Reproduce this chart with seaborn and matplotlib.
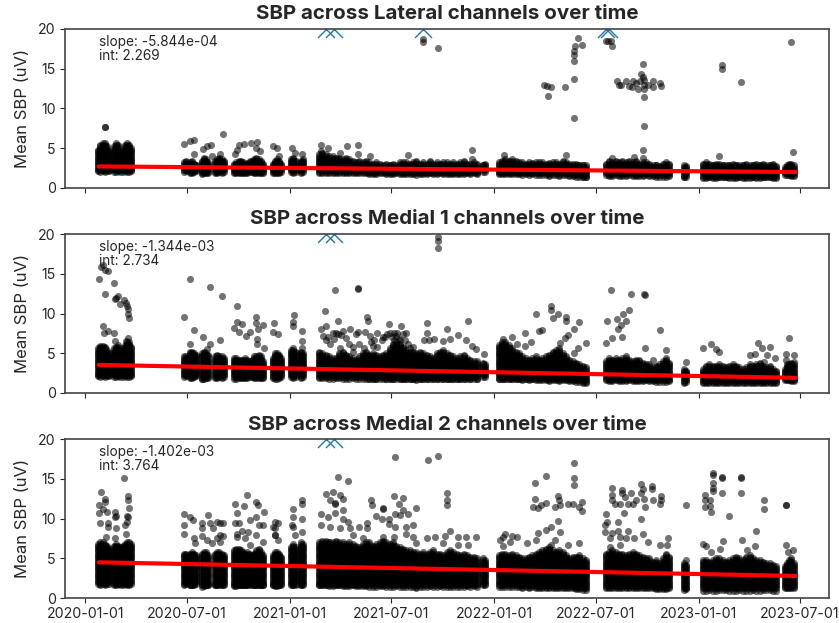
import matplotlib
matplotlib.use('Agg')
import matplotlib.pyplot as plt
import matplotlib.dates as mdates
import pandas as pd
import seaborn as sns

# days since 2020-01-01 of the recording sessions
session_days = [
    23, 27, 31, 35, 39, 43,
    51, 55, 59, 63, 67, 71, 75, 79, 82,
    177, 180, 187, 191, 195, 198,
    208, 212, 216, 219, 232, 236, 240, 244, 248,
    266, 270, 274, 278, 282, 286, 290, 294, 298, 302, 306, 310, 314, 318,
    335, 339, 343, 347, 350,
    368, 372, 376, 385, 389,
    418, 424, 430, 436, 442, 448, 454, 460, 466, 472, 478, 484, 490, 496, 502, 508,
    514, 520, 526, 532, 538, 544, 550, 556, 562, 568, 574, 580, 586, 592, 598, 604,
    610, 616, 622, 628, 634, 640, 646, 652, 658, 664, 670, 676, 682, 688, 694, 700,
    711, 714,
    739, 745, 751, 757, 763, 769, 775, 781, 787, 793, 799, 805, 811, 817, 823, 829,
    835, 841, 847, 853, 859, 865, 871, 877, 883, 889, 895,
    930, 936, 942, 948, 954, 960, 966, 972, 978, 984, 990, 996, 1002, 1008, 1014, 1020,
    1026, 1032, 1038, 1044,
    1070, 1074,
    1103, 1109, 1115, 1121, 1127, 1133, 1139, 1145, 1151, 1157, 1163, 1169, 1175, 1181,
    1187, 1193, 1199, 1205, 1211, 1217, 1223, 1229, 1235,
    1250, 1254, 1258, 1262, 1266,
]

# bottom edge of the dense band, per session
band_low = [
    2.1, 2.0, 2.1, 2.0, 2.1, 2.1,
    2.0, 2.0, 2.1, 2.0, 2.0, 2.1, 2.0, 2.0, 2.1,
    2.0, 2.1, 1.9, 1.9, 2.0, 2.1,
    1.7, 1.8, 1.9, 1.9, 1.9, 1.9, 2.0, 1.9, 2.0,
    1.8, 1.8, 1.9, 1.9, 1.9, 1.9, 1.9, 2.0, 2.0, 1.9, 1.9, 1.9, 1.9, 1.9,
    1.9, 1.8, 1.8, 1.9, 2.0,
    2.0, 1.9, 2.0, 1.9, 2.0,
    1.9, 1.9, 1.9, 1.8, 1.8, 1.9, 1.9, 1.8, 1.8, 1.8, 1.9, 1.8, 1.8, 1.8, 1.8, 1.7,
    1.7, 1.7, 1.8, 1.8, 1.7, 1.7, 1.7, 1.8, 1.7, 1.7, 1.7, 1.7, 1.7, 1.6, 1.7, 1.7,
    1.7, 1.8, 1.7, 1.7, 1.8, 1.7, 1.7, 1.7, 1.7, 1.7, 1.7, 1.7, 1.8, 1.7, 1.8, 1.7,
    2.0, 2.0,
    1.7, 1.7, 1.7, 1.7, 1.7, 1.7, 1.7, 1.6, 1.7, 1.6, 1.7, 1.6, 1.6, 1.6, 1.6, 1.5,
    1.6, 1.6, 1.5, 1.6, 1.6, 1.5, 1.5, 1.4, 1.4, 1.3, 1.3,
    1.6, 1.5, 1.5, 1.6, 1.5, 1.5, 1.5, 1.6, 1.5, 1.5, 1.5, 1.5, 1.6, 1.5, 1.5, 1.4,
    1.4, 1.4, 1.4, 1.5,
    1.3, 1.4,
    1.2, 1.2, 1.3, 1.2, 1.2, 1.3, 1.3, 1.3, 1.2, 1.2, 1.2, 1.3, 1.2, 1.2,
    1.2, 1.3, 1.2, 1.2, 1.3, 1.3, 1.3, 1.2, 1.2,
    1.6, 1.6, 1.6, 1.5, 1.5,
]

# top edge of the dense band, per session and channel group
lateral_top = [
    4.8, 5.4, 5.6, 5.6, 5.2, 4.6,
    5.2, 5.6, 5.4, 4.4, 4.8, 5.4, 5.6, 5.4, 5.0,
    3.2, 3.4, 3.2, 3.4, 3.0, 2.9,
    3.4, 3.8, 3.6, 3.2, 3.4, 3.6, 3.8, 3.6, 3.4,
    3.0, 3.2, 3.4, 3.4, 3.2, 3.0, 3.1, 3.3, 3.4, 3.6, 3.8, 3.6, 3.4, 3.0,
    3.0, 3.4, 3.6, 3.4, 3.0,
    3.6, 3.8, 3.4, 3.4, 3.6,
    4.2, 4.4, 4.2, 4.0, 4.0, 3.8, 3.8, 3.6, 3.8, 3.6, 3.4, 3.2, 3.4, 3.2, 3.4, 3.2,
    3.0, 3.2, 3.0, 2.8, 3.0, 2.9, 3.0, 2.8, 3.2, 3.2, 3.2, 3.0, 3.2, 3.4, 3.0, 3.2,
    3.0, 3.4, 3.0, 3.2, 3.0, 3.2, 3.2, 3.0, 3.2, 3.0, 3.2, 3.4, 3.0, 3.0, 3.2, 3.0,
    2.9, 3.0,
    3.2, 3.4, 3.6, 3.4, 3.6, 3.4, 3.2, 3.2, 3.0, 3.2, 3.1, 3.2, 3.2, 3.2, 3.0, 3.1,
    3.2, 3.2, 3.0, 3.4, 3.2, 3.0, 3.0, 3.0, 2.9, 2.9, 2.8,
    3.0, 3.4, 3.2, 3.4, 3.2, 3.4, 3.2, 3.4, 3.2, 3.4, 3.0, 3.2, 3.2, 3.0, 2.8, 2.9,
    2.7, 3.0, 3.2, 3.0,
    2.8, 2.7,
    3.0, 3.2, 3.0, 2.9, 3.0, 3.0, 2.9, 2.8, 2.9, 3.0, 2.9, 2.8, 2.9, 3.0,
    2.8, 2.9, 3.0, 2.9, 3.0, 2.8, 2.9, 3.0, 2.7,
    2.6, 2.8, 3.0, 3.0, 2.8,
]
medial1_top = [
    5.6, 5.9, 5.9, 5.8, 5.4, 5.0,
    5.6, 5.8, 6.0, 5.0, 5.6, 6.0, 6.4, 6.4, 5.8,
    4.6, 4.6, 5.2, 5.2, 5.0, 4.8,
    5.0, 5.2, 5.0, 4.8, 4.6, 4.8, 4.6, 4.6, 4.4,
    4.4, 4.4, 4.2, 4.2, 4.2, 4.4, 4.2, 4.0, 4.2, 4.6, 4.6, 4.8, 4.6, 4.0,
    4.4, 5.0, 5.0, 4.8, 4.4,
    5.4, 5.6, 5.2, 5.2, 5.0,
    5.2, 5.0, 4.8, 4.6, 4.4, 4.4, 5.0, 5.2, 4.8, 4.6, 4.4, 4.2, 4.6, 5.0, 5.2, 4.8,
    5.0, 4.8, 4.6, 4.8, 5.0, 5.6, 6.2, 6.4, 6.2, 5.8, 5.4, 5.2, 5.2, 5.0, 5.2, 5.0,
    4.8, 4.6, 4.4, 5.0, 5.2, 5.4, 5.0, 4.8, 4.6, 4.4, 4.6, 4.8, 4.4, 4.2, 4.0, 4.0,
    3.8, 3.6,
    6.0, 6.4, 6.4, 6.0, 5.6, 5.2, 5.0, 4.6, 4.4, 4.2, 4.4, 4.6, 4.2, 4.4, 4.6, 4.8,
    5.2, 5.4, 5.6, 5.0, 4.6, 4.2, 4.0, 3.8, 3.6, 3.4, 3.2,
    4.0, 4.4, 4.2, 4.4, 4.2, 4.4, 4.6, 4.2, 4.0, 4.2, 4.2, 3.8, 3.6, 3.6, 3.2, 3.4,
    3.6, 4.0, 4.4, 3.8,
    3.0, 2.8,
    3.0, 3.4, 3.6, 3.4, 3.4, 3.6, 3.4, 3.2, 3.4, 3.6, 3.4, 3.2, 3.0, 3.2,
    3.6, 3.4, 3.6, 3.8, 3.4, 3.2, 3.4, 3.0, 2.8,
    3.0, 3.6, 3.6, 3.8, 3.6,
]
medial2_top = [
    6.8, 7.0, 7.0, 6.8, 6.6, 6.2,
    6.6, 6.8, 6.6, 6.4, 6.6, 6.8, 7.0, 7.0, 6.8,
    5.6, 5.6, 5.6, 5.8, 5.6, 5.4,
    5.6, 5.8, 5.8, 5.4, 5.6, 5.8, 5.8, 5.6, 5.4,
    6.0, 6.2, 6.2, 6.0, 5.8, 5.6, 5.8, 5.6, 5.4, 5.6, 6.0, 6.2, 5.8, 5.4,
    5.4, 5.8, 5.8, 5.6, 5.2,
    6.4, 6.8, 6.4, 7.0, 6.8,
    7.0, 7.2, 7.2, 7.1, 7.0, 7.2, 7.0, 7.0, 6.8, 7.0, 6.8, 6.6, 6.4, 6.8, 7.0, 7.0,
    6.6, 6.8, 7.0, 7.2, 7.0, 6.8, 7.0, 6.6, 6.4, 6.2, 6.0, 6.0, 5.8, 5.8, 5.6, 5.8,
    5.6, 5.8, 6.0, 5.6, 5.6, 5.4, 5.8, 6.0, 5.8, 5.6, 5.4, 5.6, 5.4, 5.2, 5.2, 5.0,
    5.0, 4.8,
    5.4, 5.6, 5.6, 5.4, 5.6, 5.4, 5.2, 5.0, 5.0, 5.2, 5.4, 5.6, 5.8, 6.0, 6.2, 6.4,
    6.0, 5.8, 6.0, 5.8, 5.4, 5.0, 5.2, 5.2, 5.4, 5.0, 4.8,
    5.6, 5.8, 6.0, 5.8, 5.6, 5.6, 5.4, 5.6, 5.8, 5.6, 5.4, 5.2, 5.0, 5.0, 4.6, 4.8,
    4.4, 5.0, 5.6, 5.2,
    4.4, 4.2,
    4.8, 4.8, 4.6, 4.8, 5.0, 5.0, 4.8, 4.6, 4.8, 5.0, 5.2, 5.0, 4.8, 5.2,
    5.4, 5.0, 4.8, 4.8, 4.6, 4.4, 4.4, 4.2, 4.0,
    4.0, 4.4, 4.8, 5.0, 4.4,
]

# rows used to fill each session's band, it is solid black in the picture
band_rows = [1.2, 1.4, 1.6, 1.8, 2.0, 2.2, 2.4, 2.6, 2.8, 3.0, 3.2, 3.4, 3.6, 3.8, 4.0,
             4.2, 4.4, 4.6, 4.8, 5.0, 5.2, 5.4, 5.6, 5.8, 6.0, 6.2, 6.4, 6.6, 6.8, 7.0]
# the lowest points of Medial 2 sit a bit under the other two groups
band_low_shift = [0.0, 0.0, -0.3]

# separate points above the band, (day, value)
lateral_points = [
    (35, 7.66), (35, 7.6), (177, 5.56), (188, 5.86), (194, 6.07), (194, 4.3), (211, 4.9), (218, 5.2), (224, 5.44),
    (247, 6.78), (226, 4.0), (241, 4.2), (274, 5.44), (284, 5.56), (297, 5.65), (307, 5.73), (306, 5.0), (312, 4.6),
    (272, 4.7), (268, 4.2), (336, 5.3), (343, 5.0), (347, 4.0), (369, 5.0), (375, 4.4), (387, 4.3), (422, 5.4),
    (434, 5.0), (421, 4.6), (467, 5.3), (455, 4.4), (488, 5.4), (488, 4.2), (509, 4.0), (577, 4.1),
    (604, 18.8), (604, 18.3), (631, 17.6), (881, 18.9), (875, 17.9), (888, 18.0), (873, 17.2), (873, 16.7), (873, 16.0),
    (873, 13.7), (873, 8.8), (819, 12.9), (826, 12.85), (832, 12.7), (827, 11.5), (857, 12.65),
    (930, 18.5), (935, 18.5), (939, 18.5), (942, 17.9), (950, 13.5), (954, 13), (958, 13), (967, 13.4), (972, 12.85),
    (977, 12.7), (979, 13.4), (987, 12.4), (985, 13.2), (992, 13.4), (994, 14.35), (996, 15.6), (997, 14), (998, 13.6),
    (998, 13), (998, 12.4), (998, 11.4), (998, 7.8), (996, 4.7), (996, 3.8), (1014, 13.5), (1015, 12.7), (1027, 13.2),
    (1028, 12.85), (1006, 13), (1137, 15.5), (1137, 15.0), (1171, 13.3), (1261, 18.4), (1265, 4.5), (1132, 4.0),
    (692, 4.7), (692, 3.6), (748, 4.1), (859, 4.1), (981, 3.9), (941, 3.8),
]
medial1_points = [
    (24, 14.3), (29, 15.8), (32, 16.1), (35, 15.5), (40, 15.4), (52, 13.8), (36, 12.4), (54, 11.8), (56, 12),
    (59, 12.2), (69, 11.7), (62, 11.2), (73, 11.3), (74, 10.9), (77, 10.6), (77, 9.9), (79, 9.4), (32, 8.4), (41, 7.8),
    (34, 7.5), (51, 7.5), (54, 6.5), (77, 6.9), (73, 6.5), (177, 9.5), (188, 14.3), (223, 13.3), (245, 12.2),
    (194, 7.9), (187, 6.2), (211, 7.0), (223, 6.2), (241, 6.6), (217, 5.5), (271, 11.0), (271, 8.9), (280, 8.7),
    (266, 8.2), (275, 7.7), (287, 7.2), (295, 7.7), (306, 9.5), (306, 8.8), (309, 8.1), (318, 8.5), (307, 6.8),
    (307, 6.2), (319, 5.6), (338, 8.8), (336, 7.7), (345, 7.4), (372, 8.9), (372, 8.4), (373, 9.8), (387, 7.8),
    (387, 6.5), (387, 5.7), (429, 10.3), (446, 12.9), (452, 9), (488, 13.2), (488, 13.1), (422, 8.1), (431, 8.4), (434, 7.1),
    (443, 7.5), (449, 7.5), (461, 7.8), (473, 8), (488, 7.7), (500, 7.7), (503, 9.5), (505, 9.1), (509, 7.2),
    (521, 7.5), (532, 7.1), (543, 8.7), (551, 7.5), (565, 8.4), (574, 7.6), (557, 7.5), (455, 5.7), (479, 5.2),
    (515, 5.9), (551, 6.7), (563, 6.7), (577, 6.2), (586, 5.8), (631, 19.1), (631, 19.6), (631, 18.2), (611, 8.8),
    (425, 7.2), (430, 6.6), (438, 6.2), (445, 6.8), (452, 7.4), (458, 7.3), (466, 6.9), (472, 6.2), (478, 5.8),
    (484, 7.4), (490, 6.2), (498, 5.6), (510, 6.4), (516, 6.6), (522, 5.8), (530, 6.6), (536, 7.0), (540, 7.4),
    (545, 7.5), (548, 7.0), (556, 7.2), (560, 6.8), (568, 7.4), (572, 6.6), (580, 5.6),
    (611, 7.5), (605, 6.6), (615, 6.7), (623, 6.8), (646, 8.0), (667, 7.3), (684, 9.1), (680, 6.7), (692, 5.9),
    (698, 5.5), (713, 4.9), (652, 6.8), (639, 6.5), (746, 6.8), (763, 7.0), (785, 7.6), (796, 6.4), (805, 9.9),
    (811, 7.8), (817, 7.9), (832, 10.9), (832, 10.5), (835, 9.4), (844, 9.9), (860, 9.5), (859, 9), (883, 8.9),
    (873, 8), (863, 7.3), (857, 6.9), (894, 6.3), (881, 5.6), (874, 5), (848, 6.3), (786, 5.9), (771, 6.2),
    (939, 12.9), (975, 12.5), (998, 12.45), (1000, 12.3), (972, 10.5), (961, 10), (950, 9.3), (967, 9), (933, 9.1),
    (958, 8.5), (952, 8), (941, 6.9), (960, 7), (931, 6.3), (1027, 7.9), (1000, 5.6), (1038, 5.4), (1015, 4.2),
    (1073, 3.9), (1073, 2.5), (1104, 5.7), (1118, 6.2), (1128, 5.5), (1133, 5.2), (1202, 6.3), (1210, 5.6),
    (1224, 5.8), (1197, 4.9), (1188, 4.8), (1218, 4.8), (1232, 4.4), (1212, 3.9), (1258, 6.9), (1253, 4.9),
    (1266, 4.8), (1253, 4.1), (1266, 3.9),
]
medial2_points = [
    (69, 15.1), (29, 13.3), (24, 11.7), (35, 12.5), (35, 12.1), (76, 12.8), (76, 12.3), (78, 11.4), (31, 11.2),
    (39, 10.9), (24, 10.7), (53, 10.9), (53, 10.2), (56, 10.3), (74, 10.3), (77, 10.2), (26, 9.4), (41, 9.4), (40, 8.9),
    (56, 8.8), (71, 9.2), (74, 9.6), (37, 7.7), (53, 7.5), (73, 8.1), (177, 10.6), (177, 9.2), (177, 8.1), (188, 10.2),
    (192, 9.8), (194, 7.5), (196, 6.9), (208, 9.5), (208, 8.8), (208, 7.8), (220, 10.4), (223, 9.4), (229, 8.8),
    (235, 9.6), (241, 9.4), (247, 9.5), (241, 7.9), (217, 7.3), (226, 6.9), (235, 7.5), (241, 7.1), (247, 7.8),
    (268, 11.8), (271, 10.7), (268, 9.4), (274, 9.5), (284, 11.6), (289, 13.0), (305, 12.1), (308, 11.7), (319, 10.9),
    (295, 9.8), (306, 10.2), (311, 9.2), (318, 9.2), (280, 8.5), (291, 8.3), (285, 7.5), (306, 7.9), (318, 7.1),
    (271, 8.1), (271, 7.7), (295, 6.7), (339, 9.6), (345, 9.4), (336, 9), (339, 8), (345, 7.3), (339, 8.8), (339, 7.9),
    (372, 11.2), (372, 10.2), (369, 9.2), (371, 8.9), (387, 12.3), (387, 11.8), (387, 9.9), (387, 8.3), (375, 7.9),
    (452, 15.2), (470, 14.7), (430, 13.1), (442, 13.4), (437, 12.3), (446, 11.9), (446, 12.0), (455, 13), (461, 12.5), (460, 11.1),
    (421, 10.6), (421, 9.2), (434, 10.2), (446, 10.7), (461, 9.9), (470, 9.6), (437, 8.9), (455, 8.8), (473, 8.8),
    (490, 8.9), (503, 9.4), (503, 8.8), (510, 12.3), (512, 11.7), (520, 10.3), (532, 11.3), (532, 11.2), (554, 17.8), (552, 12.8),
    (567, 12.6), (560, 11.8), (567, 11.1), (554, 10.6), (563, 10.4), (577, 10.6), (542, 10), (530, 10), (592, 11.4),
    (586, 9.2), (573, 9), (542, 9.3), (554, 9), (479, 7.9), (497, 7.5), (533, 7.7), (551, 7.7), (574, 8.1), (586, 7.7),
    (592, 6.9), (613, 17.4), (631, 17.9), (646, 13.2), (646, 12.4), (646, 11.7), (652, 8.5), (643, 7.8), (625, 7.7),
    (610, 7.5), (639, 6.9), (667, 7.7), (681, 7.7), (698, 7.7), (684, 6.7), (667, 6.7), (750, 8.1), (763, 7.8),
    (772, 7.7), (741, 7.3), (747, 7.7), (759, 7.1), (746, 6.5), (804, 14.5), (823, 15.4), (804, 12.5), (801, 11.5),
    (809, 11.3), (815, 11.7), (824, 12), (839, 11.5), (845, 12.8), (847, 12.3), (848, 11.7), (863, 11.9), (872, 11.9),
    (873, 17), (873, 15.1), (873, 14.2), (888, 12.1), (883, 11.5), (888, 11), (844, 9.7), (832, 9), (824, 8.6),
    (809, 8.2), (848, 8.3), (883, 6.9), (863, 6.7), (839, 7.3), (833, 6.7), (806, 7.3), (789, 6.9),
    (942, 13.9), (942, 13), (942, 12.4), (960, 13.6), (960, 13.2), (976, 13.2), (947, 11.8), (955, 11.8), (964, 12.7),
    (970, 11.8), (979, 11.8), (985, 12.3), (994, 14.4), (996, 13.8), (994, 13.2), (998, 12.5), (1000, 11.5),
    (1013, 14.1), (1013, 13.7), (1015, 12.3), (1028, 12.8), (1028, 12.3), (1027, 11.8), (930, 10.6), (933, 9.6),
    (929, 9.2), (952, 9.6), (963, 10.7), (994, 10), (929, 8.3), (941, 8.2), (952, 8.5), (970, 8.5), (996, 8.1),
    (938, 7.5), (955, 7.7), (967, 7.5), (981, 7.5), (1006, 7.1), (938, 6.4), (955, 6.7), (1042, 7.6), (1027, 6.7),
    (1039, 6.7), (1073, 11.7), (1073, 4.8), (1121, 15.8), (1121, 15.5), (1121, 14.5), (1121, 13.9), (1121, 13.5),
    (1137, 15.3), (1137, 15.1), (1171, 15.3), (1171, 15.1), (1137, 13.2), (1171, 13.2), (1107, 13), (1107, 12.3),
    (1116, 12.4), (1107, 11.5), (1117, 11.6), (1119, 10.9), (1150, 10.3), (1212, 12.3), (1212, 11.2), (1198, 8.4),
    (1173, 7.3), (1140, 7.2), (1104, 6.8), (1110, 6.5), (1119, 5.8), (1134, 6.2), (1182, 6.1), (1197, 6.5),
    (1253, 11.7), (1252, 11.7), (1253, 6.7), (1265, 6.1), (1256, 5.8),
]

# values that ran off the top of the axis
lateral_clipped = [430, 444, 603, 930, 936]
medial1_clipped = [430, 444]
medial2_clipped = [430, 444]

channel_names = ['Lateral', 'Medial 1', 'Medial 2']
slope_labels = ['-5.844e-04', '-1.344e-03', '-1.402e-03']
int_labels = ['2.269', '2.734', '3.764']
fit_days = [24, 1270]
fit_lateral = [2.68, 1.97]
fit_medial1 = [3.52, 1.89]
fit_medial2 = [4.5, 2.78]
tick_dates = ['2020-01-01', '2020-07-01', '2021-01-01', '2021-07-01',
              '2022-01-01', '2022-07-01', '2023-01-01', '2023-07-01']

start = pd.Timestamp('2020-01-01')


def to_date(days):
    return start + pd.to_timedelta(days, unit='D')


def panel_frame(tops, points, shift):
    rows = []
    for day, low, top in zip(session_days, band_low, tops, strict=True):
        low = low + shift
        vals = [low, top] + [r for r in band_rows if low < r < top]
        rows += [(day, v) for v in vals]
    rows += points
    df = pd.DataFrame(rows, columns=['day', 'sbp'])
    df['date'] = to_date(df['day'])
    return df


sns.set_style('ticks')
plt.rcParams['font.family'] = ['Inter', 'DejaVu Sans']

fig, axes = plt.subplots(3, 1, figsize=(8.39, 6.23), dpi=100, sharex=True)
fig.subplots_adjust(left=65/839, right=829/839, top=1-29/623, bottom=1-598/623, hspace=0.293)

panels = [(lateral_top, lateral_points, lateral_clipped, fit_lateral),
          (medial1_top, medial1_points, medial1_clipped, fit_medial1),
          (medial2_top, medial2_points, medial2_clipped, fit_medial2)]

for i, (tops, points, clipped, fit) in enumerate(panels):
    ax = axes[i]
    df = panel_frame(tops, points, band_low_shift[i])
    sns.scatterplot(x='date', y='sbp', data=df, color='black', alpha=0.55, s=26, linewidth=0, ax=ax)
    sns.scatterplot(x=to_date(pd.Series(clipped)), y=[20]*len(clipped), marker='x', s=150,
                    color='#1f77b4', linewidth=1, ax=ax)
    sns.lineplot(x=to_date(pd.Series(fit_days)), y=fit, color='red', linewidth=3, ax=ax)
    ax.set_ylim(0, 20)
    ax.set_xlim(to_date(-36), to_date(1329))
    ax.set_yticks([0, 5, 10, 15, 20])
    ax.set_xticks(pd.to_datetime(tick_dates))
    ax.xaxis.set_major_formatter(mdates.DateFormatter('%Y-%m-%d'))
    ax.tick_params(labelsize=10.2, length=3.5, width=0.8, pad=3)
    ax.set_xlabel('')
    ax.set_ylabel('Mean SBP (uV)', fontsize=12, labelpad=6)
    ax.set_title(f'SBP across {channel_names[i]} channels over time', fontsize=14.8, fontweight='bold', pad=7)
    ax.text(to_date(24), 17.5, f'slope: {slope_labels[i]}\nint: {int_labels[i]}', fontsize=9.8, va='center', linespacing=1.0)
    for s in ax.spines.values():
        s.set_color('#444444')
        s.set_linewidth(1.2)

plt.savefig('out.png', dpi=100)
